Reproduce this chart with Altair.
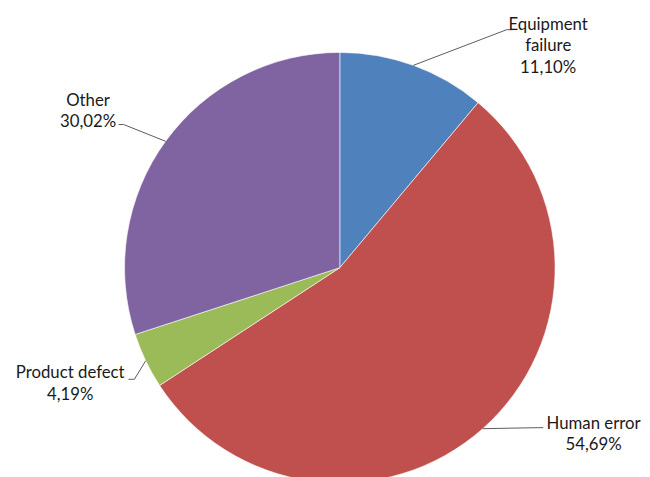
import math
import altair as alt
import pandas as pd

# ---- data ----
categories = ["Equipment failure", "Human error", "Product defect", "Other"]
values = [11.10, 54.69, 4.19, 30.02]
label_lines = [["Equipment", "failure"], ["Human error"], ["Product defect"], ["Other"]]
colors = ["#4F81BD", "#C0504D", "#9BBB59", "#8064A2"]

# ---- layout (chart pixel coordinates, origin = top-left of the chart) ----
W, H = 642, 469
DX = 4
CX, CY, R = 332 + DX, 260, 218
# first-line centre of each label block, and leader elbow / end
label_pos = {
    "Equipment failure": dict(tx=543, ty=14, ex=501, ey=19, fx=507, fy=19),
    "Human error": dict(tx=589, ty=418, ex=533, ey=422, fx=538, fy=422),
    "Product defect": dict(tx=59, ty=367, ex=124, ey=373, fx=118, fy=373),
    "Other": dict(tx=77, ty=91, ex=113, ey=115, fx=108, fy=115),
}

def fmt(v):
    return f"{v:.2f}".replace(".", ",") + "%"

pie_df = pd.DataFrame({"category": categories, "value": values, "idx": range(len(values))})

total = sum(values)
text_rows, line_rows = [], []
cum = 0.0
for cat, v, lines in zip(categories, values, label_lines):
    mid = (cum + v / 2) / total * 2 * math.pi
    cum += v
    sx = CX + R * math.sin(mid)
    sy = CY - R * math.cos(mid)
    lp = label_pos[cat]
    text_rows.append({"category": cat, "text": "\n".join(lines + [fmt(v)]), "x": lp["tx"] + DX, "y": lp["ty"]})
    for step, (px, py) in enumerate([(sx, sy), (lp["ex"] + DX, lp["ey"]), (lp["fx"] + DX, lp["fy"])]):
        line_rows.append({"category": cat, "step": step, "x": px, "y": py})

text_df = pd.DataFrame(text_rows)
line_df = pd.DataFrame(line_rows)

pie = alt.Chart(pie_df).mark_arc(radius=R, stroke="#ffffff", strokeWidth=0.6).encode(
    theta=alt.Theta("value:Q", stack=True),
    order=alt.Order("idx:Q"),
    color=alt.Color("category:N", scale=alt.Scale(domain=categories, range=colors), legend=None),
    x=alt.value(CX),
    y=alt.value(CY),
)

leaders = alt.Chart(line_df).mark_line(color="#5a5a5a", strokeWidth=1).encode(
    x=alt.X("x:Q", scale=None),
    y=alt.Y("y:Q", scale=None),
    detail="category:N",
    order="step:Q",
)

labels = alt.Chart(text_df).mark_text(
    font="Lato", fontSize=17, color="#1a1a1a", align="center", baseline="middle",
    lineBreak="\n", lineHeight=22,
).encode(
    x=alt.X("x:Q", scale=None),
    y=alt.Y("y:Q", scale=None),
    text="text:N",
)

chart = alt.layer(pie, leaders, labels).properties(
    width=W, height=H, autosize=alt.AutoSizeParams(type="none"), padding=0
).configure_view(stroke=None)

chart.save("out.html", embed_options={"renderer": "svg", "actions": False})
